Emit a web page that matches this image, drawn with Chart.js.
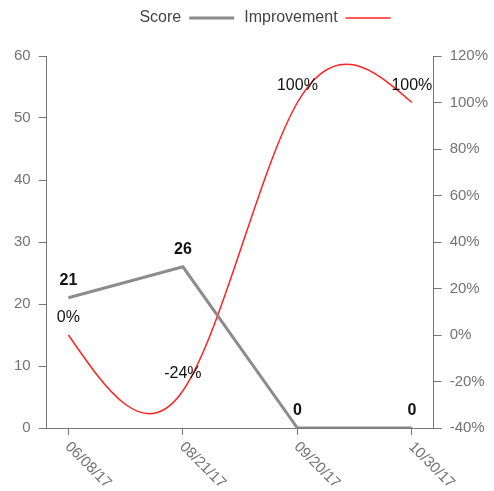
<!DOCTYPE html>
<html>
<head>
<meta charset="utf-8">
<script src="https://cdn.jsdelivr.net/npm/chart.js@4/dist/chart.umd.min.js"></script>
<style>
  html, body { margin: 0; padding: 0; background: #fff; }
  #wrap { width: 494px; height: 491px; position: relative; }
</style>
</head>
<body>
<div id="wrap"><canvas id="chart"></canvas></div>
<script>
// Test dates on the x axis
const dates = ['06/08/17', '08/21/17', '09/20/17', '10/30/17'];
// Score per test (left axis)
const scores = [21, 26, 0, 0];
// Improvement in percent (right axis)
const improvement = [0, -24, 100, 100];
// Tick values for both vertical axes
const scoreTicks = [0, 10, 20, 30, 40, 50, 60];
const improvementTicks = [-40, -20, 0, 20, 40, 60, 80, 100, 120];

const FONT = 'Liberation Sans, Arial, Helvetica, sans-serif';
const AXIS_COLOR = '#777';
const TICK_TEXT = '#737373';

// Natural cubic spline: Bezier control points for one coordinate
function naturalControls(v) {
  const n = v.length - 1;
  const a = new Array(n), b = new Array(n), r = new Array(n);
  if (n < 1) return [a, b];
  if (n === 1) {
    a[0] = (2 * v[0] + v[1]) / 3;
    b[0] = (v[0] + 2 * v[1]) / 3;
    return [a, b];
  }
  a[0] = 0; b[0] = 2; r[0] = v[0] + 2 * v[1];
  for (let i = 1; i < n - 1; ++i) { a[i] = 1; b[i] = 4; r[i] = 4 * v[i] + 2 * v[i + 1]; }
  a[n - 1] = 2; b[n - 1] = 7; r[n - 1] = 8 * v[n - 1] + v[n];
  for (let i = 1; i < n; ++i) {
    const m = a[i] / b[i - 1];
    b[i] -= m; r[i] -= m * r[i - 1];
  }
  a[n - 1] = r[n - 1] / b[n - 1];
  for (let i = n - 2; i >= 0; --i) a[i] = (r[i] - a[i + 1]) / b[i];
  b[n - 1] = (v[n] + a[n - 1]) / 2;
  for (let i = 0; i < n - 1; ++i) b[i] = 2 * v[i + 1] - a[i + 1];
  return [a, b];
}

// Smooth the datasets flagged with `natural` using a natural spline
const naturalSpline = {
  id: 'naturalSpline',
  afterDatasetsUpdate(chart) {
    chart.data.datasets.forEach((ds, i) => {
      if (!ds.natural) return;
      const meta = chart.getDatasetMeta(i);
      const pts = meta.data;
      if (pts.length < 2) return;
      const [ax, bx] = naturalControls(pts.map(p => p.x));
      const [ay, by] = naturalControls(pts.map(p => p.y));
      pts.forEach((p, j) => {
        p.cp1x = j > 0 ? bx[j - 1] : p.x;
        p.cp1y = j > 0 ? by[j - 1] : p.y;
        p.cp2x = j < pts.length - 1 ? ax[j] : p.x;
        p.cp2y = j < pts.length - 1 ? ay[j] : p.y;
      });
      meta.dataset._pointsUpdated = true;
    });
  }
};

// Value labels drawn above each point
const valueLabels = {
  id: 'valueLabels',
  afterDatasetsDraw(chart) {
    const ctx = chart.ctx;
    chart.data.datasets.forEach((ds, i) => {
      const meta = chart.getDatasetMeta(i);
      if (meta.hidden) return;
      meta.data.forEach((pt, j) => {
        ctx.save();
        ctx.font = (ds.id === 'score' ? 'bold ' : '') + '16px ' + FONT;
        ctx.fillStyle = '#111';
        ctx.textAlign = 'center';
        ctx.textBaseline = 'middle';
        const v = ds.data[j];
        ctx.fillText(ds.id === 'score' ? String(v) : v + '%', pt.x, pt.y - 17);
        ctx.restore();
      });
    });
  }
};

// Date labels slanted down to the right, starting at each tick
const slantedDates = {
  id: 'slantedDates',
  afterDraw(chart) {
    const scale = chart.scales.x;
    const ctx = chart.ctx;
    scale.ticks.forEach((t, i) => {
      const x = scale.getPixelForTick(i);
      const y = scale.top + 16.5;
      ctx.save();
      ctx.translate(x - 1, y);
      ctx.rotate(Math.PI / 4);
      ctx.font = '15px ' + FONT;
      ctx.fillStyle = TICK_TEXT;
      ctx.textAlign = 'left';
      ctx.textBaseline = 'middle';
      ctx.fillText(scale.getLabelForValue(t.value), 0, 0);
      ctx.restore();
    });
  }
};

// Extra room between the legend and the plot, legend nudged right
const legendGap = {
  id: 'legendGap',
  beforeLayout(chart) {
    const legend = chart.legend;
    if (legend && !legend._gapPatched) {
      const fit = legend.fit;
      legend.fit = function () { fit.call(this); this.height += 20; };
      legend._gapPatched = true;
    }
  },
  afterLayout(chart) {
    const legend = chart.legend;
    if (legend) { legend.left += 14; legend.right += 14; }
  }
};

new Chart(document.getElementById('chart'), {
  type: 'line',
  data: {
    labels: dates,
    datasets: [
      {
        id: 'score',
        label: 'Score',
        data: scores,
        yAxisID: 'y',
        borderColor: '#8c8c8c',
        backgroundColor: '#8c8c8c',
        borderWidth: 3,
        pointRadius: 0,
        pointHoverRadius: 0,
        tension: 0,
        fill: false,
        pointStyle: 'line'
      },
      {
        id: 'improvement',
        label: 'Improvement',
        data: improvement,
        yAxisID: 'y1',
        borderColor: '#ff2222',
        backgroundColor: '#ff2222',
        borderWidth: 1.5,
        pointRadius: 0,
        pointHoverRadius: 0,
        tension: 0.4,
        natural: true,
        capBezierPoints: false,
        fill: false,
        pointStyle: 'line'
      }
    ]
  },
  options: {
    responsive: true,
    maintainAspectRatio: false,
    animation: false,
    layout: { padding: { left: 6, right: -2, top: 0, bottom: 56 } },
    elements: { line: { capBezierPoints: false } },
    plugins: {
      tooltip: { enabled: false },
      legend: {
        position: 'top',
        rtl: true,
        reverse: true,
        labels: {
          usePointStyle: true,
          pointStyle: 'line',
          pointStyleWidth: 45,
          boxHeight: 16,
          padding: 10,
          color: '#444',
          font: { family: FONT, size: 16 }
        }
      }
    },
    scales: {
      x: {
        type: 'category',
        offset: false,
        afterBuildTicks(scale) {
          // leave some room at both ends of the date range
          scale._startValue = -0.19;
          scale._valueRange = (dates.length - 1) + 0.38;
        },
        grid: {
          display: true,
          drawOnChartArea: false,
          drawTicks: true,
          tickLength: 7,
          color: AXIS_COLOR
        },
        border: { display: true, color: AXIS_COLOR, width: 1 },
        ticks: { display: false }
      },
      y: {
        position: 'left',
        min: scoreTicks[0],
        max: scoreTicks[scoreTicks.length - 1],
        afterBuildTicks(scale) {
          scale.ticks = scoreTicks.map(v => ({ value: v }));
        },
        grid: {
          display: true,
          drawOnChartArea: false,
          tickLength: 8,
          color: AXIS_COLOR
        },
        border: { display: true, color: AXIS_COLOR, width: 1 },
        ticks: {
          color: TICK_TEXT,
          padding: 8,
          font: { family: FONT, size: 15 }
        }
      },
      y1: {
        position: 'right',
        min: improvementTicks[0],
        max: improvementTicks[improvementTicks.length - 1],
        afterBuildTicks(scale) {
          scale.ticks = improvementTicks.map(v => ({ value: v }));
        },
        grid: {
          display: true,
          drawOnChartArea: false,
          tickLength: 8,
          color: AXIS_COLOR
        },
        border: { display: true, color: AXIS_COLOR, width: 1 },
        ticks: {
          color: TICK_TEXT,
          padding: 8,
          font: { family: FONT, size: 15 },
          callback: v => v + '%'
        }
      }
    }
  },
  plugins: [legendGap, naturalSpline, valueLabels, slantedDates]
});
</script>
</body>
</html>
